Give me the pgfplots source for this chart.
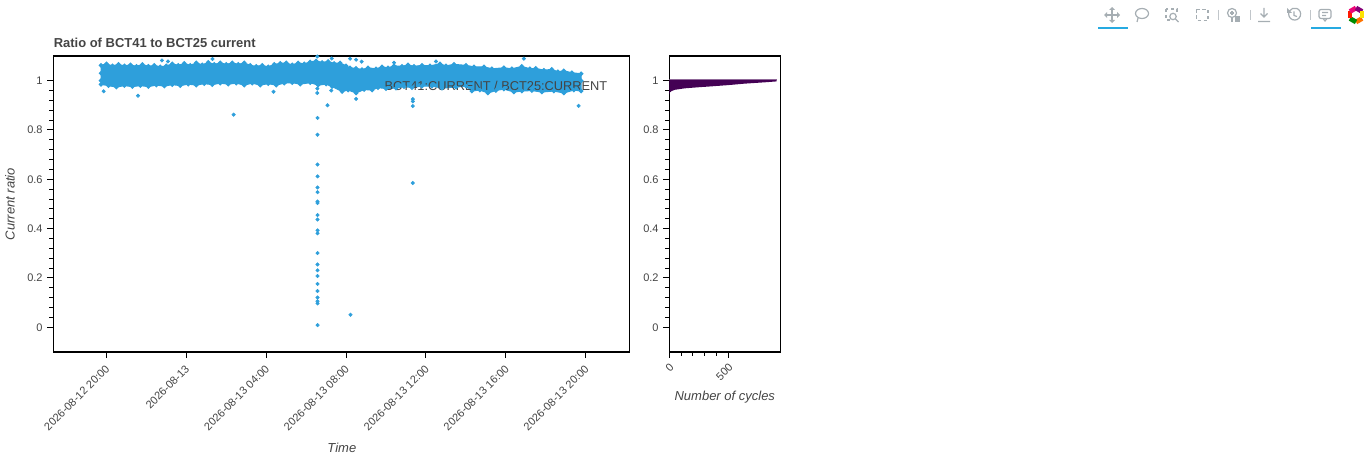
\documentclass[border=0pt]{standalone}
\usepackage{pgfplots}
\pgfplotsset{compat=1.18}
\usepackage{fontspec}
\setmainfont{Liberation Sans}
\definecolor{txt}{HTML}{444444}
\definecolor{pt}{HTML}{2E9FDB}
\definecolor{hist}{HTML}{440154}
\definecolor{icon}{HTML}{A6AEB3}
\definecolor{tool}{HTML}{26AAE1}
\pgfplotsset{common/.style={
  scale only axis, height=222pt,
  ymin=-0.1, ymax=1.1,
  ytick={0,0.2,0.4,0.6,0.8,1}, yticklabels={0,0.2,0.4,0.6,0.8,1},
  minor y tick num=4,
  xtick pos=lower, ytick pos=left, tick align=outside,
  axis line style={black,line width=1.1pt},
  major tick style={black,line width=0.75pt},
  minor tick style={black,line width=0.75pt},
  major tick length=4.5pt, minor tick length=3pt,
  tick label style={font=\fontsize{8.25}{10}\selectfont,text=txt},
  label style={font=\fontsize{9.75}{12}\selectfont\itshape,text=txt},
  clip=true,
}}
\begin{document}
\begin{tikzpicture}[x=0.75pt,y=0.75pt]
\path[use as bounding box] (0,0) rectangle (1366,460);
\begin{axis}[common, at={(39.975pt,81pt)}, anchor=south west, width=432pt,
  xmin=-2.66, xmax=26.18,
  xtick={0,4,8,12,16,20,24},
  xticklabels={2026-08-12 20:00,2026-08-13,2026-08-13 04:00,2026-08-13 08:00,2026-08-13 12:00,2026-08-13 16:00,2026-08-13 20:00},
  xticklabel style={rotate=45,anchor=north east,inner sep=1.5pt,xshift=-2.6pt,yshift=-0.8pt},
  xlabel={Time}, ylabel={Current ratio},
  xlabel style={at={(axis description cs:0.501,-0.324)},anchor=center},
  ylabel style={at={(axis description cs:-0.075,0.5)},anchor=center},
]
% band envelope: upper edge left to right, lower edge right to left
\addplot[color=pt,fill=pt,line width=0.8pt,mark=*,mark size=1.3pt,mark options={fill=pt,draw=none}] table[row sep=\\] {
x y\\
-0.27 1.000\\ -0.27 1.030\\ -0.27 1.062\\ 0.0 1.068\\ 0.3 1.060\\ 0.6 1.066\\ 0.9 1.060\\ 1.2 1.064\\ 1.5 1.058\\ 1.8 1.066\\
2.1 1.058\\ 2.4 1.062\\ 2.7 1.056\\ 3.0 1.060\\ 3.3 1.068\\ 3.6 1.062\\ 3.9 1.070\\ 4.2 1.062\\ 4.5 1.072\\ 4.8 1.064\\
5.1 1.074\\ 5.4 1.066\\ 5.7 1.072\\ 6.0 1.066\\ 6.3 1.072\\ 6.6 1.066\\ 6.9 1.072\\ 7.2 1.062\\ 7.5 1.058\\ 7.8 1.062\\
8.1 1.056\\ 8.4 1.066\\ 8.7 1.070\\ 9.0 1.072\\ 9.3 1.064\\ 9.6 1.072\\ 9.9 1.068\\ 10.2 1.076\\ 10.5 1.080\\ 10.8 1.074\\
11.1 1.078\\ 11.4 1.070\\ 11.7 1.072\\ 12.0 1.060\\ 12.2 1.052\\ 12.5 1.050\\ 12.8 1.045\\ 13.1 1.052\\ 13.5 1.048\\ 13.8 1.056\\
14.1 1.052\\ 14.4 1.060\\ 14.8 1.058\\ 15.1 1.064\\ 15.4 1.058\\ 15.8 1.062\\ 16.2 1.060\\ 16.7 1.068\\ 17.0 1.060\\ 17.4 1.066\\
18.0 1.062\\ 18.4 1.056\\ 18.9 1.056\\ 19.3 1.048\\ 19.9 1.052\\ 20.3 1.048\\ 20.8 1.058\\ 21.2 1.048\\ 21.5 1.050\\ 21.9 1.042\\
22.3 1.046\\ 22.6 1.036\\ 22.9 1.040\\ 23.3 1.032\\ 23.77 1.028\\ 23.77 1.000\\ 23.77 0.958\\
23.4 0.962\\ 22.9 0.950\\ 22.4 0.958\\ 21.8 0.954\\ 21.3 0.960\\ 20.8 0.958\\ 20.4 0.954\\ 19.9 0.966\\ 19.5 0.960\\ 19.1 0.950\\
18.7 0.962\\ 18.3 0.958\\ 18.0 0.978\\ 17.5 0.974\\ 16.8 0.970\\ 16.3 0.978\\ 15.8 0.978\\ 15.3 0.972\\ 14.9 0.976\\ 14.5 0.970\\
14.0 0.968\\ 13.6 0.972\\ 13.3 0.962\\ 12.9 0.964\\ 12.5 0.950\\ 12.1 0.962\\ 11.8 0.956\\ 11.3 0.976\\ 11.0 0.986\\ 10.6 0.982\\
10.2 0.992\\ 9.7 0.986\\ 9.3 0.992\\ 8.9 0.990\\ 8.5 0.982\\ 8.1 0.988\\ 7.7 0.982\\ 7.3 0.990\\ 6.9 0.982\\ 6.5 0.990\\
6.1 0.986\\ 5.7 0.990\\ 5.3 0.984\\ 4.9 0.988\\ 4.5 0.982\\ 4.1 0.986\\ 3.7 0.980\\ 3.3 0.984\\ 2.9 0.978\\ 2.5 0.982\\
2.1 0.976\\ 1.7 0.980\\ 1.3 0.976\\ 0.9 0.980\\ 0.5 0.974\\ 0.1 0.980\\ -0.27 0.985\\
};
% isolated points
\addplot[color=pt,only marks,mark=*,mark size=1.3pt,mark options={fill=pt,draw=none}] table[row sep=\\] {
x y\\
10.57 0.849\\ 10.57 0.781\\ 10.57 0.660\\ 10.57 0.612\\ 10.57 0.567\\ 10.57 0.548\\ 10.57 0.510\\ 10.57 0.504\\
10.57 0.455\\ 10.57 0.437\\ 10.57 0.393\\ 10.57 0.381\\ 10.57 0.301\\ 10.57 0.255\\ 10.57 0.231\\ 10.57 0.208\\
10.57 0.176\\ 10.57 0.147\\ 10.57 0.121\\ 10.57 0.106\\ 10.57 0.097\\ 10.57 0.009\\
12.22 0.051\\ 11.07 0.900\\ 15.34 0.585\\ 15.34 0.897\\ 15.34 0.916\\ 15.34 0.925\\ 12.5 0.926\\ 6.37 0.862\\
23.64 0.898\\ 1.58 0.939\\ -0.14 0.957\\ 10.56 0.968\\ 10.56 0.950\\ 8.37 0.955\\ 11.26 0.960\\
5.31 1.088\\ 10.56 1.098\\ 11.28 1.090\\ 2.78 1.082\\ 3.08 1.078\\ 12.2 1.089\\ 12.5 1.085\\ 12.78 1.077\\
20.9 1.089\\ 16.5 1.078\\ 14.4 1.073\\
};
\node[font=\fontsize{9.6}{12}\selectfont,text=txt,anchor=base west,inner sep=0pt] at (axis cs:13.92,0.961) {BCT41:CURRENT / BCT25:CURRENT};
\end{axis}
\node[font=\fontsize{9.73}{11}\selectfont\bfseries,text=txt,anchor=base west,inner sep=0pt] at (53.5,412) {Ratio of BCT41 to BCT25 current};
\begin{axis}[common, at={(501.975pt,81pt)}, anchor=south west, width=83.25pt,
  xmin=0, xmax=941,
  xtick={0,500}, xticklabels={0,500}, minor x tick num=4,
  xticklabel style={rotate=45,anchor=north east,inner sep=1.5pt,xshift=-1pt,yshift=-0.8pt},
  xlabel={Number of cycles},
  xlabel style={at={(axis description cs:0.50,-0.152)},anchor=center},
]
\addplot[fill=hist,draw=none] table[row sep=\\] {
x y\\
0 1.002\\ 910 1.002\\ 910 0.997\\ 800 0.993\\ 641 0.988\\ 500 0.982\\ 359 0.977\\ 240 0.973\\ 133 0.969\\ 90 0.966\\ 48 0.963\\ 20 0.958\\ 5 0.952\\ 0 0.943\\
} -- cycle;
\addplot[color=hist!60,line width=0.7pt] table[row sep=\\] {
x y\\
0 1.003\\ 910 1.003\\
};
\end{axis}
% toolbar
\begin{scope}[y=-0.75pt,yshift=345pt,line width=0.9pt,draw=icon]
\fill[tool] (1098,27.5) rectangle (1128,29.5);
\fill[tool] (1311,27.5) rectangle (1341,29.5);
% pan
\draw[icon,line width=1.3pt] (1105,15)--(1119,15) (1112,8)--(1112,22);
\fill[icon] (1112,7)--(1109,10)--(1115,10)--cycle (1112,23)--(1109,20)--(1115,20)--cycle (1104,15)--(1107,12)--(1107,18)--cycle (1120,15)--(1117,12)--(1117,18)--cycle;
% lasso
\draw[icon] (1142,13.5) ellipse (6.5 and 5); \draw[icon] (1138,18)--(1137,22);
% box zoom
\draw[icon,dash pattern=on 2.5pt off 2pt] (1166,9) rectangle (1177,20);
\fill[white] (1171,14) rectangle (1180,23);
\draw[icon] (1173,16.5) circle (3.2); \draw[icon] (1175.5,19)--(1178.5,22);
% box select
\draw[icon,dash pattern=on 2.5pt off 2pt] (1196.5,9.5) rectangle (1208,20.5);
% separators
\draw[icon!70,line width=0.6pt] (1218,10)--(1218,20) (1250,10)--(1250,20) (1310,10)--(1310,20);
% wheel zoom
\draw[icon] (1232,13) circle (4.5); \draw[icon] (1232,17.5)--(1232,22) (1230,13)--(1234,13) (1232,11)--(1232,15);
\fill[icon] (1235,16) rectangle (1239.5,22.5);
% save
\draw[icon] (1264,8)--(1264,17) (1260.5,13.5)--(1264,17)--(1267.5,13.5) (1258,21.5)--(1270,21.5);
% reset
\draw[icon] (1289,12) arc (200:-150:6); \draw[icon] (1294,11.5)--(1294,15.5)--(1297,16.5);
\fill[icon] (1287,8)--(1287,13)--(1292,13)--cycle;
% hover
\draw[icon,rounded corners=1.5pt] (1319,9.5) rectangle (1331,18.5);
\draw[icon] (1323,18.5)--(1325,21)--(1327,18.5) (1322,12.5)--(1328,12.5) (1322,15.5)--(1326,15.5);
% logo
\begin{scope}[shift={(1356,15)},line width=3.6pt]
\draw[color=orange!90!red] (90:7)--(30:7) ;
\draw[color=green!55!black] (150:7)--(90:7);
\draw[color=red!80!orange] (210:7)--(150:7);
\draw[color=magenta!80!red] (270:7)--(210:7);
\draw[color=purple!70!blue] (330:7)--(270:7);
\draw[color=yellow!85!orange] (30:7)--(330:7);
\end{scope}
\end{scope}
\end{tikzpicture}
\end{document}
